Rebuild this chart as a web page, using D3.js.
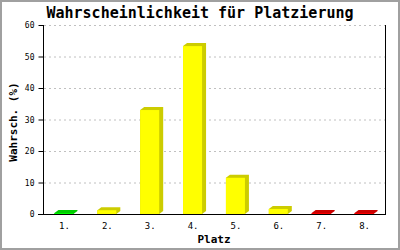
<!DOCTYPE html>
<html>
<head>
<meta charset="utf-8">
<script src="https://cdn.jsdelivr.net/npm/d3@7"></script>
<style>
  body { margin: 0; background: #fff; }
  svg { display: block; }
</style>
</head>
<body>
<script>
// values
var places = ['1.', '2.', '3.', '4.', '5.', '6.', '7.', '8.'];
var probs = [0.3, 1.2, 33, 53.3, 11.5, 1.6, 0.3, 0.3];
var faceColors = ['#00ff00', '#ffff00', '#ffff00', '#ffff00', '#ffff00', '#ffff00', '#ff0000', '#ff0000'];
var sideColors = ['#00cc00', '#cccc00', '#cccc00', '#cccc00', '#cccc00', '#cccc00', '#cc0000', '#cc0000'];
var yTicks = [0, 10, 20, 30, 40, 50, 60];

var W = 400, H = 250;
var svg = d3.select('body').append('svg')
    .attr('width', W)
    .attr('height', H);

svg.append('rect')
  .attr('x', 1).attr('y', 1)
  .attr('width', W - 2).attr('height', H - 2)
  .style('fill', '#fff')
  .style('stroke', '#a0a0a0')
  .style('stroke-width', 2);

var x = d3.scaleBand()
    .domain(places)
    .range([43, 386]);

var y = d3.scaleLinear()
    .domain([0, 60])
    .range([214, 25]);

var barW = 19, dx = 4, dy = 3;
var mono = '"DejaVu Sans Mono", monospace';

// grid
svg.append('g').selectAll('line')
  .data(yTicks.slice(1))
  .enter().append('line')
    .attr('x1', 44).attr('x2', 385)
    .attr('y1', (d) => y(d) + 0.5).attr('y2', (d) => y(d) + 0.5)
    .style('stroke', '#c0c0c0')
    .style('stroke-dasharray', '2,3');

// bars with a little 3d top/side
var bars = svg.append('g').selectAll('g')
  .data(probs)
  .enter().append('g');

var left = (d, i) => x(places[i]) + x.bandwidth() / 2 - 10;

bars.append('path')
  .attr('d', (d, i) => {
    var l = left(d, i), t = y(d), b = y(0);
    return 'M' + l + ',' + t + 'L' + (l + dx) + ',' + (t - dy) + 'L' + (l + barW + dx) + ',' + (t - dy) +
      'L' + (l + barW + dx) + ',' + (b - dy) + 'L' + (l + barW) + ',' + b + 'L' + l + ',' + b + 'Z';
  })
  .style('fill', (d, i) => sideColors[i]);

bars.append('rect')
  .attr('x', left)
  .attr('y', (d) => y(d))
  .attr('width', barW)
  .attr('height', (d) => y(0) - y(d))
  .style('fill', (d, i) => faceColors[i]);

// axes
var yAxis = d3.axisLeft(y).tickValues(yTicks).tickSize(5).tickPadding(4);
var gy = svg.append('g')
  .attr('transform', 'translate(43.5,0)')
  .call(yAxis);
gy.select('.domain').remove();
gy.append('line').attr('x1', 0).attr('x2', 0).attr('y1', 25).attr('y2', 214).style('stroke', '#000');
gy.selectAll('text').style('font-family', mono).style('font-size', '8px');

var xAxis = d3.axisBottom(x).tickSize(0).tickPadding(8);
var gx = svg.append('g')
  .attr('transform', 'translate(0,214.5)')
  .call(xAxis);
gx.select('.domain').remove();
gx.append('line').attr('x1', 38).attr('x2', 386).style('stroke', '#000');
gx.selectAll('text').style('font-family', mono).style('font-size', '9px');

svg.append('line')
  .attr('x1', 385.5).attr('x2', 385.5)
  .attr('y1', 25).attr('y2', 215)
  .style('stroke', '#000');

// titles
svg.append('text')
  .attr('x', 200).attr('y', 18)
  .attr('text-anchor', 'middle')
  .style('font-family', mono).style('font-size', '15px').style('font-weight', 'bold')
  .text('Wahrscheinlichkeit für Platzierung');

svg.append('text')
  .attr('x', 214).attr('y', 243)
  .attr('text-anchor', 'middle')
  .style('font-family', mono).style('font-size', '11px').style('font-weight', 'bold')
  .text('Platz');

svg.append('text')
  .attr('transform', 'translate(17,122) rotate(-90)')
  .attr('text-anchor', 'middle')
  .style('font-family', mono).style('font-size', '11px').style('font-weight', 'bold')
  .text('Wahrsch. (%)');
</script>
</body>
</html>
